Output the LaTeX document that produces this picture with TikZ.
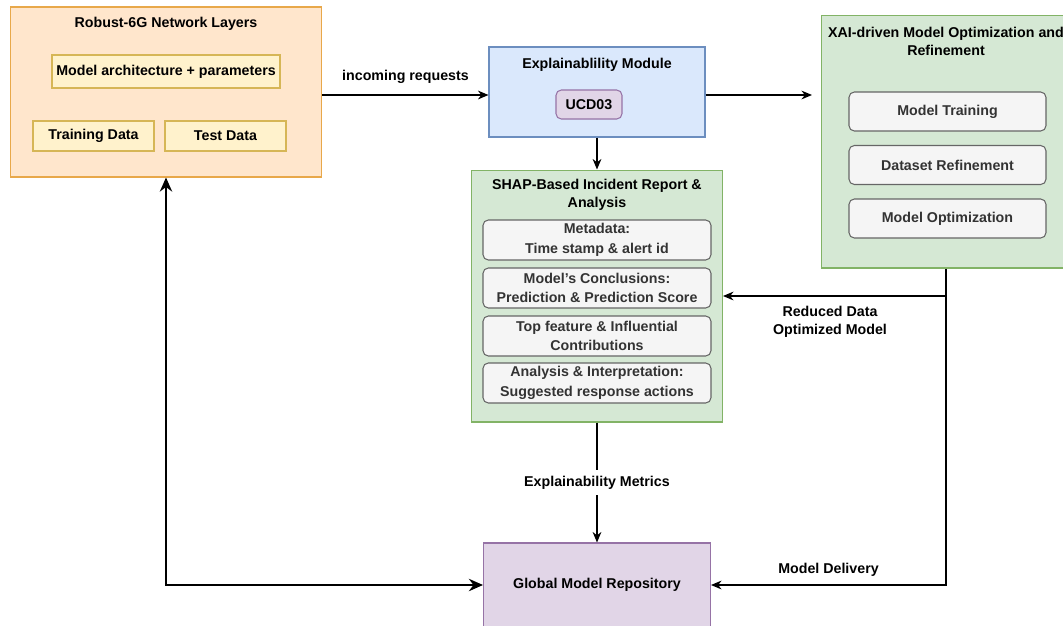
\documentclass[tikz,border=0pt]{standalone}
\usepackage{fontspec}
\setmainfont{Liberation Sans}
\usetikzlibrary{arrows.meta}
\definecolor{orfill}{HTML}{FFE6CC}
\definecolor{ordraw}{HTML}{E8A84A}
\definecolor{yefill}{HTML}{FFF2CC}
\definecolor{yedraw}{HTML}{D6B656}
\definecolor{blfill}{HTML}{DAE8FC}
\definecolor{bldraw}{HTML}{6C8EBF}
\definecolor{grfill}{HTML}{D5E8D4}
\definecolor{grdraw}{HTML}{82B366}
\definecolor{pufill}{HTML}{E1D5E7}
\definecolor{pudraw}{HTML}{9673A6}
\definecolor{gyfill}{HTML}{F5F5F5}
\definecolor{gydraw}{HTML}{666666}
\definecolor{gytext}{HTML}{333333}
\begin{document}
\begin{tikzpicture}[x=0.02cm, y=-0.02cm, font=\fontsize{8.1}{10.2}\selectfont\bfseries,
  box/.style = {draw, line width=0.6pt, inner sep=0pt},
  group/.style = {box},
  item/.style = {box, fill=yefill, draw=yedraw},
  sub/.style = {box, rounded corners=3pt, fill=gyfill, draw=gydraw, text=gytext, align=center,
    font=\fontsize{8.1}{11.2}\selectfont\bfseries},
  link/.style = {line width=0.75pt, -{Stealth[length=6pt, width=5pt]}},
  lbl/.style = {align=center}]
  \useasboundingbox (0,0) rectangle (1063,626);
  % network layers
  \node[group, fill=orfill, draw=ordraw, minimum width=6.24cm, minimum height=3.4cm] (net) at (166,92) {};
  \node (nettitle) at (166,24) {Robust-6G Network Layers};
  \node[item, minimum width=4.56cm, minimum height=0.66cm] (arch) at (166,71.5) {Model architecture + parameters};
  \node[item, minimum width=2.42cm, minimum height=0.6cm] (train) at (93.5,136) {Training Data};
  \node[item, minimum width=2.42cm, minimum height=0.6cm] (test) at (225.5,136) {Test Data};
  % explainability
  \node[group, fill=blfill, draw=bldraw, minimum width=4.32cm, minimum height=1.8cm] (expl) at (597,92) {};
  \node (expltitle) at (597,65) {Explainablility Module};
  \node[box, rounded corners=3pt, fill=pufill, draw=pudraw, minimum width=1.32cm, minimum height=0.58cm] (ucd) at (589,104.5) {UCD03};
  % optimization
  \node[group, fill=grfill, draw=grdraw, minimum width=5cm, minimum height=5.06cm] (xai) at (946,141.5) {};
  \node[lbl] (xaititle) at (946,41) {XAI-driven Model Optimization and\\Refinement};
  \node[sub, minimum width=3.94cm, minimum height=0.78cm] (mtrain) at (947.5,111.5) {Model Training};
  \node[sub, minimum width=3.94cm, minimum height=0.78cm] (dref) at (947.5,165) {Dataset Refinement};
  \node[sub, minimum width=3.94cm, minimum height=0.78cm] (mopt) at (947.5,218.5) {Model Optimization};
  % report
  \node[group, fill=grfill, draw=grdraw, minimum width=5.02cm, minimum height=5.04cm] (shap) at (597,296) {};
  \node[lbl] (shaptitle) at (597,195) {SHAP-Based Incident Report \&\\Analysis};
  \node[sub, minimum width=4.56cm, minimum height=0.8cm] (meta) at (597,240) {Metadata:\\Time stamp \& alert id};
  \node[sub, minimum width=4.56cm, minimum height=0.8cm] (concl) at (597,288) {Model's Conclusions:\\Prediction \& Prediction Score};
  \node[sub, minimum width=4.56cm, minimum height=0.8cm] (feat) at (597,336) {Top feature \& Influential\\Contributions};
  \node[sub, minimum width=4.56cm, minimum height=0.8cm] (anal) at (597,383) {Analysis \& Interpretation:\\Suggested response actions};
  % repository
  \node[box, fill=pufill, draw=pudraw, minimum width=4.54cm, minimum height=1.68cm] (gmr) at (597,585) {Global Model Repository};
  % connectors
  \draw[link] (net.east |- 0,95) to node[above=3pt] {incoming requests} (expl.west |- 0,95);
  \draw[link] (expl.east |- 0,95) to (812,95);
  \draw[link] (expl.south) to (shap.north);
  \draw[link] (shap.south) to node[fill=white, pos=0.5] {Explainability Metrics} (gmr.north);
  \draw[link] (xai.south) |- node[pos=0.75, above=1pt] {Model Delivery} (gmr.east);
  \draw[link] (xai.south |- shap.east) to (shap.east);
  \node[lbl] (redlbl) at (830,322) {Reduced Data\\Optimized Model};
  \draw[line width=1.7pt, {Stealth[length=8pt, width=7pt]}-{Stealth[length=8pt, width=7pt]}] (net.south) |- (gmr.west);
\end{tikzpicture}
\end{document}
